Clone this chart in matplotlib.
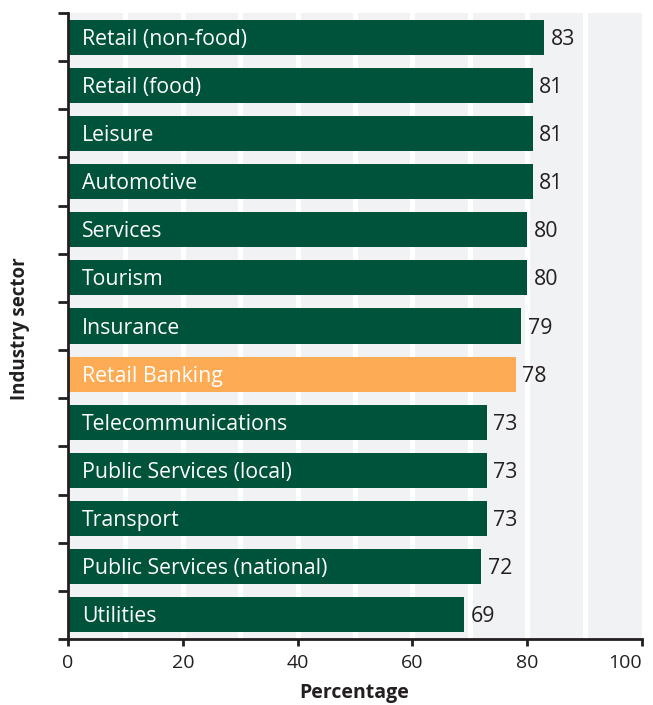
import matplotlib
matplotlib.use("Agg")
import matplotlib.pyplot as plt
from matplotlib.transforms import ScaledTranslation

categories = ["Retail (non-food)", "Retail (food)", "Leisure", "Automotive", "Services",
              "Tourism", "Insurance", "Retail Banking", "Telecommunications",
              "Public Services (local)", "Transport", "Public Services (national)", "Utilities"]
values = [83, 81, 81, 81, 80, 80, 79, 78, 73, 73, 73, 72, 69]
highlight = "Retail Banking"
xticks = [0, 20, 40, 60, 80, 100]

plt.rcParams['font.family'] = ['Open Sans', 'DejaVu Sans']
green = "#00533b"
orange = "#fdab55"
dark = "#231f20"

W, H = 653, 705
fig = plt.figure(figsize=(W/100, H/100), dpi=100)
ax = fig.add_axes([68/W, 1-639/H, (642-68)/W, (639-13)/H])
ax.set_facecolor("#f1f2f4")

for g in range(10, 100, 10):
    ax.axvline(g, color="white", lw=3.6, zorder=1)

ypos = list(range(len(categories)))
colors = [orange if c == highlight else green for c in categories]
ax.barh(ypos, values, height=0.727, color=colors, zorder=2)

down = ScaledTranslation(0, -2/100, fig.dpi_scale_trans)
for y, c, v in zip(ypos, categories, values):
    ax.text(2.4, y, c, color="white", fontsize=15.3, va="center", ha="left", zorder=3,
            transform=ax.transData + down)
    ax.text(v + 1.1, y, str(v), color=dark, fontsize=15.3, va="center", ha="left", zorder=3,
            transform=ax.transData + down)

ax.set_xlim(0, 100)
ax.set_ylim(len(categories) - 0.5, -0.5)
ax.set_xticks(xticks)
ax.set_xticklabels([str(t) for t in xticks], fontsize=14, color=dark)
ax.get_xticklabels()[-1].set_horizontalalignment("right")
ax.get_xticklabels()[-1].set_transform(ax.get_xaxis_transform() + ScaledTranslation(2/72, 0, fig.dpi_scale_trans))
ax.set_yticks([i - 0.5 for i in range(len(categories) + 1)])
ax.set_yticklabels([])
ax.tick_params(axis="x", length=5, width=2, color=dark, pad=6)
ax.tick_params(axis="y", length=7, width=2, color=dark)

for s in ["top", "right"]:
    ax.spines[s].set_visible(False)
for s in ["left", "bottom"]:
    ax.spines[s].set_linewidth(2)
    ax.spines[s].set_color(dark)

fig.text(354/W, 1-698/H, "Percentage", fontsize=14, fontweight="bold", color=dark,
         ha="center", va="baseline")
fig.text(20/W, 1-329/H, "Industry sector", fontsize=13.5, fontweight="bold", color=dark,
         ha="center", va="center", rotation=90)

fig.savefig("out.png", dpi=100)
